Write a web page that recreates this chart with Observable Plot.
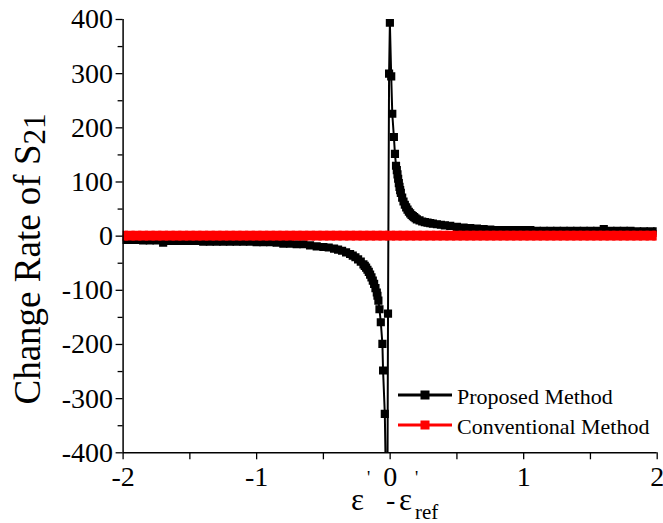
<!DOCTYPE html>
<html>
<head>
<meta charset="utf-8">
<script src="https://cdn.jsdelivr.net/npm/d3@7"></script>
<script src="https://cdn.jsdelivr.net/npm/@observablehq/plot@0.6"></script>
<style>
  html, body { margin: 0; padding: 0; background: #fff; }
  #chart svg { display: block; }
</style>
</head>
<body>
<div id="chart"></div>
<script>
// ---- data ----
const proposedX = [
  -2.0, -1.95, -1.9, -1.85, -1.8, -1.75, -1.7, -1.65, -1.6, -1.55, -1.5, -1.45, -1.4, -1.35, -1.3,
  -1.25, -1.2, -1.15, -1.1, -1.05, -1.0, -0.95, -0.9, -0.85, -0.8, -0.75, -0.7, -0.65, -0.6, -0.55,
  -0.5, -0.46, -0.42, -0.39, -0.36, -0.33, -0.3, -0.28, -0.26, -0.24, -0.22, -0.2, -0.19, -0.18, -0.17,
  -0.16, -0.15, -0.14, -0.13, -0.12, -0.11, -0.1, -0.095, -0.088, -0.08, -0.07, -0.058, -0.053, -0.04,
  -0.022, -0.016, -0.008, -0.002, 0.008, 0.016, 0.028, 0.036, 0.044,
  0.05, 0.055, 0.06, 0.065, 0.07, 0.075, 0.08, 0.09, 0.1, 0.11, 0.12, 0.13, 0.14, 0.15, 0.16, 0.17,
  0.18, 0.19, 0.2, 0.22, 0.24, 0.26, 0.28, 0.3, 0.32, 0.35, 0.38, 0.41, 0.45, 0.5, 0.55, 0.6, 0.65,
  0.7, 0.75, 0.8, 0.85, 0.9, 0.95, 1.0, 1.05, 1.1, 1.15, 1.2, 1.25, 1.3, 1.35, 1.4, 1.45, 1.5, 1.55,
  1.6, 1.65, 1.7, 1.75, 1.8, 1.85, 1.9, 1.95, 2.0
];
const proposedY = [
  -7, -7, -7, -8, -8, -8, -12, -9, -9, -9, -9, -9, -10, -10, -10,
  -10, -10, -10, -10, -10, -11, -11, -11, -12, -14, -14, -15, -15, -17, -19,
  -20, -21, -23, -25, -27, -30, -33, -36, -39, -43, -47, -52, -55, -58, -62,
  -66, -71, -76, -82, -88, -96, -104, -110, -119, -135, -159, -199, -248, -328,
  -600, -143, 300, 394, 295, 226, 183, 152, 130,
  122, 114, 106, 98, 91, 85, 80, 71, 64, 58, 53, 49, 45, 42, 39, 37,
  35, 33, 31, 29, 27, 26, 25, 24, 23, 22, 21, 20, 19, 17, 16, 15, 14,
  13, 12, 11, 11, 11, 11, 11, 11, 10, 10, 10, 10, 10, 10, 10, 10, 10, 10,
  13, 10, 10, 10, 10, 9, 9, 9, 9
];
const conventionalX = [
  -2.0, -1.95, -1.9, -1.85, -1.8, -1.75, -1.7, -1.65, -1.6, -1.55, -1.5, -1.45, -1.4, -1.35, -1.3,
  -1.25, -1.2, -1.15, -1.1, -1.05, -1.0, -0.95, -0.9, -0.85, -0.8, -0.75, -0.7, -0.65, -0.6, -0.55,
  -0.5, -0.45, -0.4, -0.35, -0.3, -0.25, -0.2, -0.15, -0.1, -0.05, 0.0, 0.05, 0.1, 0.15, 0.2, 0.25,
  0.3, 0.35, 0.4, 0.45, 0.5, 0.55, 0.6, 0.65, 0.7, 0.75, 0.8, 0.85, 0.9, 0.95, 1.0, 1.05, 1.1, 1.15,
  1.2, 1.25, 1.3, 1.35, 1.4, 1.45, 1.5, 1.55, 1.6, 1.65, 1.7, 1.75, 1.8, 1.85, 1.9, 1.95, 2.0
];
const conventionalY = [
  1, 1, 1, 1, 1, 1, 1, 1, 1, 1, 1, 1, 1, 1, 1,
  1, 1, 1, 1, 1, 1, 1, 1, 1, 1, 1, 1, 1, 1, 1,
  1, 1, 1, 1, 1, 1, 1, 1, 1, 1, 1, 1, 1, 1, 1, 1,
  1, 1, 1, 1, 1, 1, 1, 1, 1, 1, 1, 1, 1, 1, 1, 1, 1, 1,
  1, 1, 1, 1, 1, 1, 1, 1, 1, 1, 1, 1, 1, 1, 1, 1, 1
];
const xTicks = [-2, -1, 0, 1, 2];
const xMinorTicks = [-1.5, -0.5, 0.5, 1.5];
const yTicks = [-400, -300, -200, -100, 0, 100, 200, 300, 400];
const yMinorTicks = [-350, -250, -150, -50, 50, 150, 250, 350];
const seriesNames = ["Proposed Method", "Conventional Method"];
const seriesColors = ["#000000", "#ff0000"];
const yTitle = "Change Rate of S";
const yTitleSub = "21";

// ---- build tables ----
const proposed = proposedX.map((x, i) => ({x, y: proposedY[i]}));
const conventional = conventionalX.map((x, i) => ({x, y: conventionalY[i]}));

const FONT = "Liberation Serif, Times New Roman, serif";
const plain = d => String(d);

const chart = Plot.plot({
  width: 663,
  height: 523,
  marginLeft: 122.6,
  marginRight: 6.3,
  marginTop: 19,
  marginBottom: 70.7,
  style: {fontFamily: FONT, background: "#fff"},
  x: {domain: [-2, 2]},
  y: {domain: [-400, 400]},
  marks: [
    Plot.line(proposed, {x: "x", y: "y", stroke: seriesColors[0], strokeWidth: 2, clip: true}),
    Plot.dot(proposed, {x: "x", y: "y", symbol: "square", r: 4.6, fill: seriesColors[0], stroke: "none", clip: true}),
    Plot.line(conventional, {x: "x", y: "y", stroke: seriesColors[1], strokeWidth: 3, clip: true}),
    Plot.dot(conventional, {x: "x", y: "y", symbol: "square", r: 5.6, fill: seriesColors[1], stroke: "none", clip: true}),
    Plot.ruleX([-2], {stroke: "#000", strokeWidth: 1.5}),
    Plot.ruleY([-400], {stroke: "#000", strokeWidth: 1.5}),
    Plot.axisX(xTicks, {tickSize: 7, tickPadding: 6, tickFormat: plain, fontSize: 28, fontFamily: FONT, label: null, stroke: "#000", strokeWidth: 1.3, fill: "#000"}),
    Plot.axisX(xMinorTicks, {tickSize: 7, tickFormat: () => "", label: null, stroke: "#000", strokeWidth: 1.3}),
    Plot.axisY(yTicks, {tickSize: 7, tickPadding: 3, tickFormat: plain, fontSize: 28, fontFamily: FONT, label: null, stroke: "#000", strokeWidth: 1.3, fill: "#000"}),
    Plot.axisY(yMinorTicks, {tickSize: 5, tickFormat: () => "", label: null, stroke: "#000", strokeWidth: 1.3})
  ]
});

document.getElementById("chart").appendChild(chart);

// ---- titles and legend (decoration) ----
const svg = d3.select(chart);

// y-axis title with subscript
const yt = svg.append("text")
  .attr("transform", "translate(40,259) rotate(-90)")
  .attr("text-anchor", "middle")
  .attr("font-family", FONT)
  .attr("font-size", 37)
  .attr("fill", "#000");
yt.append("tspan").text(yTitle);
yt.append("tspan").attr("dy", 5).attr("font-size", 31).text(yTitleSub);

// x-axis title: ε' - ε'ref (pieces as separate texts)
const xParts = [
  {t: "ε", x: 351, y: 510, s: 31},
  {t: "'", x: 367, y: 484, s: 18},
  {t: "-", x: 386, y: 509, s: 28},
  {t: "ε", x: 399, y: 510, s: 31},
  {t: "'", x: 415, y: 484, s: 18},
  {t: "ref", x: 415, y: 519, s: 21}
];
xParts.forEach(p => {
  svg.append("text")
    .attr("x", p.x).attr("y", p.y)
    .attr("text-anchor", "start")
    .attr("font-family", FONT)
    .attr("font-size", p.s)
    .attr("fill", "#000")
    .text(p.t);
});

// legend
const legendRows = [395, 425];
seriesNames.forEach((name, i) => {
  const yy = legendRows[i];
  const g = svg.append("g");
  g.append("line").attr("x1", 398).attr("x2", 452).attr("y1", yy).attr("y2", yy)
    .attr("stroke", seriesColors[i]).attr("stroke-width", 3);
  g.append("rect").attr("x", 420.5).attr("y", yy - 4.5).attr("width", 9).attr("height", 9)
    .attr("fill", seriesColors[i]);
  g.append("text").attr("x", 457).attr("y", yy + 8.5)
    .attr("text-anchor", "start")
    .attr("font-family", FONT).attr("font-size", 22).attr("fill", "#000").text(name);
});
</script>
</body>
</html>
